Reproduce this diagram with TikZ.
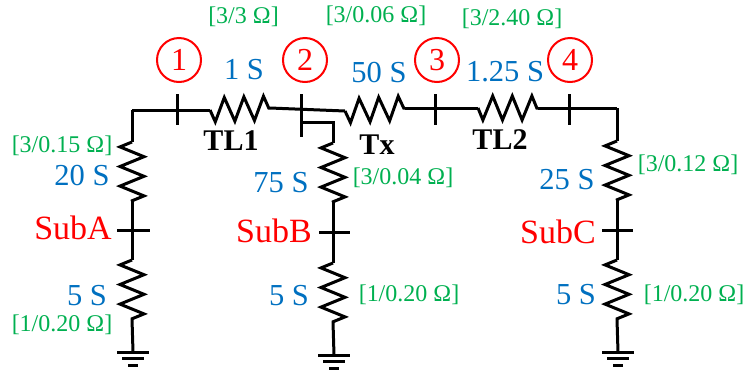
\documentclass[tikz,border=0pt]{standalone}
\usepackage{fontspec}
\setmainfont{Liberation Serif}
\usetikzlibrary{decorations.pathmorphing}
\definecolor{valblue}{HTML}{0070C0}
\definecolor{valgreen}{HTML}{00B050}
\tikzset{
    wire/.style={line width=3pt, black},
    res/.style={wire, decorate, decoration={zigzag, mirror, segment length=19.6pt, amplitude=12pt}},
    busnum/.style={circle, draw=red, line width=2pt, text=red, minimum size=44pt, inner sep=0pt, font=\fontsize{32}{32}\selectfont},
    subname/.style={text=red, inner sep=0pt, font=\fontsize{34}{34}\selectfont},
    siemens/.style={text=valblue, inner sep=0pt, font=\fontsize{30.5}{30.5}\selectfont},
    rating/.style={text=valgreen, inner sep=0pt, font=\fontsize{24}{24}\selectfont},
    linename/.style={inner sep=0pt, font=\fontsize{30}{30}\selectfont\bfseries},
    gnd/.pic={
        \draw[wire] (-16,0) -- (16,0);
        \draw[wire] (-11,6.5) -- (11,6.5);
        \draw[wire] (-5,13) -- (5,13);
    }
}
\begin{document}
\begin{tikzpicture}[x=1pt, y=-1pt]
    \useasboundingbox (0,0) rectangle (748,373);

    % top line
    \coordinate (cornerA) at (132,110);
    \coordinate (tl1a) at (210,110);
    \coordinate (tl1b) at (270,108);
    \coordinate (txa) at (345,111);
    \coordinate (txb) at (405,108);
    \coordinate (tl2a) at (478,108);
    \coordinate (tl2b) at (538,108);
    \coordinate (cornerC) at (617,108);
    \draw [wire] (cornerA) -- (tl1a);
    \draw [res] (tl1a) -- (tl1b);
    \draw [wire] (tl1b) -- (txa);
    \draw [res] (txa) -- (txb);
    \draw [wire] (txb) -- (tl2a);
    \draw [res] (tl2a) -- (tl2b);
    \draw [wire] (tl2b) -- (cornerC);

    % bus ticks
    \coordinate (bus1t) at (177,94);
    \coordinate (bus1b) at (177,125);
    \coordinate (bus2t) at (301,94);
    \coordinate (bus2b) at (301,137);
    \coordinate (bus3t) at (435,94);
    \coordinate (bus3b) at (435,125);
    \coordinate (bus4t) at (569,94);
    \coordinate (bus4b) at (569,125);
    \draw [wire] (bus1t) -- (bus1b);
    \draw [wire] (bus2t) -- (bus2b);
    \draw [wire] (bus3t) -- (bus3b);
    \draw [wire] (bus4t) -- (bus4b);

    % SubA branch
    \coordinate (a1) at (132,142);
    \coordinate (a2) at (132,201);
    \coordinate (a3) at (132,260);
    \coordinate (a4) at (132,319);
    \coordinate (aL) at (117,230);
    \coordinate (aR) at (150,230);
    \coordinate (aG) at (133,352);
    \draw [wire] (cornerA) -- (a1);
    \draw [res] (a1) -- (a2);
    \draw [wire] (a2) -- (a3);
    \draw [res] (a3) -- (a4);
    \draw [wire] (a4) -- (aG);
    \draw [wire] (aL) -- (aR);
    \pic at (aG) {gnd};

    % SubB branch
    \coordinate (b0) at (301,122);
    \coordinate (b0r) at (333,122);
    \coordinate (b1) at (333,143);
    \coordinate (b2) at (333,202);
    \coordinate (b3) at (333,263);
    \coordinate (b4) at (333,322);
    \coordinate (bL) at (319,232);
    \coordinate (bR) at (350,232);
    \coordinate (bG) at (334,355);
    \draw [wire] (b0) -- (b0r) -- (b1);
    \draw [res] (b1) -- (b2);
    \draw [wire] (b2) -- (b3);
    \draw [res] (b3) -- (b4);
    \draw [wire] (b4) -- (bG);
    \draw [wire] (bL) -- (bR);
    \pic at (bG) {gnd};

    % SubC branch
    \coordinate (c1) at (617,141);
    \coordinate (c2) at (617,200);
    \coordinate (c3) at (617,260);
    \coordinate (c4) at (617,319);
    \coordinate (cL) at (602,230);
    \coordinate (cR) at (633,230);
    \coordinate (cG) at (618,352);
    \draw [wire] (cornerC) -- (c1);
    \draw [res] (c1) -- (c2);
    \draw [wire] (c2) -- (c3);
    \draw [res] (c3) -- (c4);
    \draw [wire] (c4) -- (cG);
    \draw [wire] (cL) -- (cR);
    \pic at (cG) {gnd};

    % bus numbers
    \node [busnum] (num1) at (179,60) {1};
    \node [busnum] (num2) at (305,60) {2};
    \node [busnum] (num3) at (437,60) {3};
    \node [busnum] (num4) at (570,60) {4};

    % names
    \node [subname] (subA) at (73,228) {SubA};
    \node [subname] (subB) at (274,231) {SubB};
    \node [subname] (subC) at (558,232) {SubC};
    \node [linename] (tl1) at (231,141) {TL1};
    \node [linename] (tx) at (377,145) {Tx};
    \node [linename] (tl2) at (500,140) {TL2};

    % siemens values
    \node [siemens] (s1) at (244,70) {1 S};
    \node [siemens] (s2) at (379,73) {50 S};
    \node [siemens] (s3) at (505,72) {1.25 S};
    \node [siemens] (s4) at (82,176) {20 S};
    \node [siemens] (s5) at (281,183) {75 S};
    \node [siemens] (s6) at (567,180) {25 S};
    \node [siemens] (s7) at (87,296) {5 S};
    \node [siemens] (s8) at (289,296) {5 S};
    \node [siemens] (s9) at (576,295) {5 S};

    % ratings
    \node [rating] (r1) at (243.5,17) {[3/3 Ω]};
    \node [rating] (r2) at (376,16) {[3/0.06 Ω]};
    \node [rating] (r3) at (512,19) {[3/2.40 Ω]};
    \node [rating] (r4) at (62,146) {[3/0.15 Ω]};
    \node [rating] (r5) at (403,178) {[3/0.04 Ω]};
    \node [rating] (r6) at (688,165) {[3/0.12 Ω]};
    \node [rating] (r7) at (62,325) {[1/0.20 Ω]};
    \node [rating] (r8) at (409,295) {[1/0.20 Ω]};
    \node [rating] (r9) at (694,295) {[1/0.20 Ω]};
\end{tikzpicture}
\end{document}
